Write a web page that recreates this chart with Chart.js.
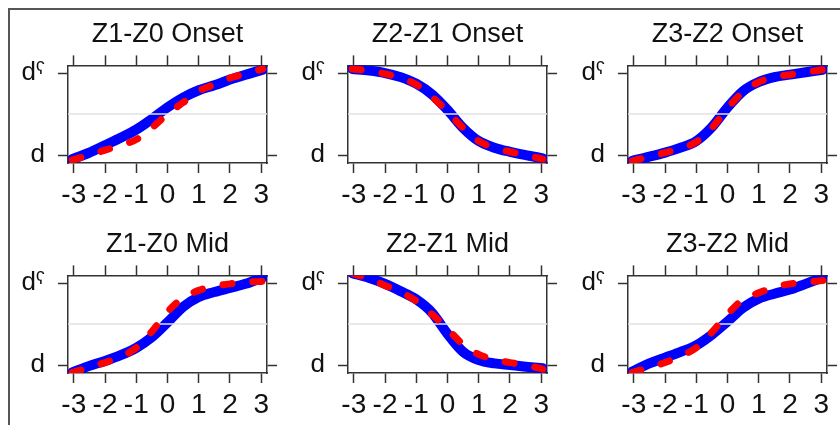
<!DOCTYPE html>
<html>
<head>
<meta charset="utf-8">
<script src="https://cdn.jsdelivr.net/npm/chart.js@4.4.1/dist/chart.umd.min.js"></script>
<style>
  body { margin: 0; background: #fff; width: 840px; height: 425px; overflow: hidden; position: relative; }
  #frame { position: absolute; left: 8px; top: 8px; width: 840px; height: 430px;
           border-top: 2px solid #555; border-left: 2px solid #555; }
  canvas { position: absolute; }
</style>
</head>
<body>
<div id="frame"></div>
<canvas id="p0" width="280" height="210" style="left:0px;top:0px"></canvas>
<canvas id="p1" width="280" height="210" style="left:280px;top:0px"></canvas>
<canvas id="p2" width="280" height="210" style="left:560px;top:0px"></canvas>
<canvas id="p3" width="280" height="210" style="left:0px;top:210px"></canvas>
<canvas id="p4" width="280" height="210" style="left:280px;top:210px"></canvas>
<canvas id="p5" width="280" height="210" style="left:560px;top:210px"></canvas>
<script>
// x positions shared by every curve
var xValues = [-3.05, -2.5, -2, -1.5, -1, -0.5, 0, 0.5, 1, 1.5, 2, 2.5, 3.05];
var xTickValues = [-3, -2, -1, 0, 1, 2, 3];
var xTickLabels = ['-3', '-2', '-1', '0', '1', '2', '3'];
var yTickValues = [0, 1];
var yTickLabels = ['d', 'd\u02E4'];
var midLine = 0.5;

var panelTitles = ['Z1-Z0 Onset', 'Z2-Z1 Onset', 'Z3-Z2 Onset', 'Z1-Z0 Mid', 'Z2-Z1 Mid', 'Z3-Z2 Mid'];

// solid blue curves
var solidZ1Z0Onset = [-0.05, 0.03, 0.12, 0.21, 0.31, 0.44, 0.58, 0.70, 0.79, 0.85, 0.92, 0.98, 1.04];
var solidZ2Z1Onset = [1.05, 1.03, 1.00, 0.95, 0.87, 0.74, 0.55, 0.33, 0.17, 0.09, 0.04, 0.00, -0.04];
var solidZ3Z2Onset = [-0.07, -0.02, 0.03, 0.09, 0.17, 0.34, 0.58, 0.78, 0.89, 0.95, 0.98, 1.01, 1.04];
var solidZ1Z0Mid   = [-0.09, -0.01, 0.05, 0.12, 0.21, 0.34, 0.52, 0.71, 0.83, 0.89, 0.94, 0.99, 1.07];
var solidZ2Z1Mid   = [1.12, 1.06, 0.99, 0.90, 0.80, 0.64, 0.38, 0.16, 0.06, 0.02, 0.00, -0.02, -0.04];
var solidZ3Z2Mid   = [-0.08, 0.02, 0.09, 0.16, 0.24, 0.37, 0.53, 0.70, 0.81, 0.87, 0.92, 0.99, 1.07];

// dashed red curves
var dashedZ1Z0Onset = [-0.06, 0.00, 0.06, 0.12, 0.19, 0.33, 0.50, 0.64, 0.78, 0.86, 0.94, 0.99, 1.05];
var dashedZ2Z1Onset = [1.05, 1.03, 0.99, 0.94, 0.86, 0.71, 0.53, 0.33, 0.17, 0.09, 0.04, 0.00, -0.05];
var dashedZ3Z2Onset = [-0.07, -0.02, 0.03, 0.08, 0.16, 0.33, 0.57, 0.77, 0.89, 0.95, 0.98, 1.01, 1.04];
var dashedZ1Z0Mid   = [-0.09, -0.03, 0.03, 0.10, 0.21, 0.41, 0.65, 0.82, 0.91, 0.96, 0.99, 1.01, 1.02];
var dashedZ2Z1Mid   = [1.12, 1.05, 0.97, 0.89, 0.78, 0.62, 0.44, 0.25, 0.13, 0.07, 0.03, 0.00, -0.05];
var dashedZ3Z2Mid   = [-0.09, -0.03, 0.03, 0.11, 0.21, 0.40, 0.62, 0.80, 0.88, 0.95, 0.99, 1.01, 1.03];

var solidSeries = [solidZ1Z0Onset, solidZ2Z1Onset, solidZ3Z2Onset, solidZ1Z0Mid, solidZ2Z1Mid, solidZ3Z2Mid];
var dashedSeries = [dashedZ1Z0Onset, dashedZ2Z1Onset, dashedZ3Z2Onset, dashedZ1Z0Mid, dashedZ2Z1Mid, dashedZ3Z2Mid];

var xMin = -3.185, xMax = 3.185;
var yMin = -0.097, yMax = 1.093;

var fontFamily = '"Liberation Sans", Arial, Helvetica, sans-serif';
var inkColor = '#111';

function toPoints(ys) {
    return xValues.map(function (x, i) { return { x: x, y: ys[i] }; });
}

function axis(position, size, showLabels) {
    var horizontal = position === 'top' || position === 'bottom';
    return {
        type: 'linear',
        position: position,
        min: horizontal ? xMin : yMin,
        max: horizontal ? xMax : yMax,
        afterBuildTicks: function (s) {
            var vals = horizontal ? xTickValues : yTickValues;
            s.ticks = vals.map(function (v) { return { value: v }; });
        },
        afterFit: function (s) {
            if (horizontal) s.height = size; else s.width = size;
        },
        grid: { drawOnChartArea: false, tickLength: 10, tickWidth: 1.5, tickColor: '#333' },
        border: { display: true, color: '#333', width: 1.5 },
        ticks: {
            display: showLabels,
            autoSkip: false,
            maxRotation: 0,
            padding: horizontal ? 5 : 13,
            color: inkColor,
            font: { size: horizontal ? 28 : 26, family: fontFamily },
            callback: function (v, i) { return horizontal ? xTickLabels[i] : yTickLabels[i]; }
        }
    };
}

function makePanel(i) {
    var ctx = document.getElementById('p' + i).getContext('2d');
    return new Chart(ctx, {
        type: 'line',
        data: {
            datasets: [{
                // dashed red
                data: toPoints(dashedSeries[i]),
                borderColor: '#ff0000',
                borderWidth: 7,
                borderDash: [9, 21],
                borderCapStyle: 'round',
                pointRadius: 0,
                cubicInterpolationMode: 'monotone',
                clip: 0
            }, {
                // light reference line
                data: [{ x: xMin, y: midLine }, { x: xMax, y: midLine }],
                borderColor: '#e2e2e2',
                borderWidth: 1.5,
                pointRadius: 0,
                clip: 0
            }, {
                // solid blue
                data: toPoints(solidSeries[i]),
                borderColor: '#0000ff',
                borderWidth: 10,
                borderCapStyle: 'round',
                pointRadius: 0,
                cubicInterpolationMode: 'monotone',
                clip: 0
            }]
        },
        options: {
            responsive: false,
            animation: false,
            layout: { padding: 0 },
            plugins: {
                legend: { display: false },
                tooltip: { enabled: false },
                title: {
                    display: true,
                    text: panelTitles[i],
                    fullSize: false,
                    color: inkColor,
                    font: { size: 27, family: fontFamily, weight: 'normal' },
                    padding: { top: 18, bottom: 5 }
                }
            },
            scales: {
                x: axis('bottom', 47, true),
                x2: axis('top', 10, false),
                y: axis('left', 68, true),
                y2: axis('right', 13, false)
            }
        }
    });
}

for (var i = 0; i < 6; i++) makePanel(i);
</script>
</body>
</html>
